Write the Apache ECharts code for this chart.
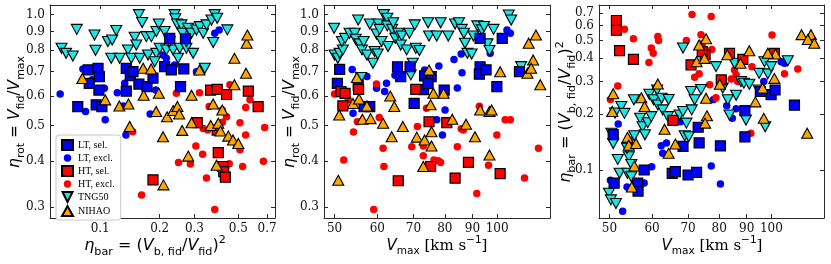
<!DOCTYPE html>
<html><head><meta charset="utf-8">
<script src="https://cdn.jsdelivr.net/npm/echarts@6/dist/echarts.min.js"></script>
<style>html,body{margin:0;padding:0;background:#fff}#c{width:831px;height:264px}</style>
</head><body><div id="c"></div>
<script>
// ---------- tick values ----------
const ticksEtaRot = [0.3, 0.4, 0.5, 0.6, 0.7, 0.8, 0.9, 1.0];
const ticksEtaBarX = [0.1, 0.2, 0.3, 0.5, 0.7];
const ticksVmax = [50, 60, 70, 80, 90, 100];
const ticksEtaBarY = [0.1, 0.2, 0.3, 0.4, 0.5, 0.6, 0.7];

// ---------- panel 1: eta_bar (x) vs eta_rot (y) ----------
const p1_LTsel = [[0.077,0.563],[0.087,0.708],[0.088,0.651],[0.0975,0.715],[0.099,0.679],[0.0985,0.624],[0.0954,0.569],[0.102,0.563],[0.1355,0.715],[0.142,0.683],[0.1355,0.62],[0.157,0.648],[0.1725,0.638],[0.185,0.672],[0.212,0.7225],[0.229,0.708],[0.225,0.862],[0.27,0.86],[0.265,0.712],[0.255,0.638],[0.1465,0.70]];
const p1_LTexc = [[0.0627,0.609],[0.0817,0.712],[0.0843,0.546],[0.0911,0.666],[0.105,0.631],[0.106,0.518],[0.122,0.614],[0.133,0.651],[0.131,0.565],[0.135,0.471],[0.179,0.537],[0.191,0.624],[0.208,0.777],[0.216,0.761],[0.238,0.73],[0.295,0.794],[0.307,0.70],[0.38,0.89],[0.40,0.909]];
const p1_HTsel = [[0.185,0.356],[0.31,0.509],[0.362,0.624],[0.391,0.627],[0.436,0.607],[0.562,0.62],[0.63,0.563],[0.391,0.486],[0.396,0.422],[0.417,0.387],[0.422,0.375],[0.43,0.362]];
const p1_HTexc = [[0.146,0.481],[0.162,0.324],[0.243,0.6115],[0.249,0.397],[0.305,0.44],[0.286,0.393],[0.318,0.614],[0.33,0.418],[0.332,0.491],[0.35,0.486],[0.356,0.563],[0.345,0.36],[0.38,0.296],[0.415,0.551],[0.415,0.51],[0.436,0.5285],[0.4535,0.645],[0.45,0.394],[0.51,0.509],[0.49,0.445],[0.51,0.43],[0.526,0.387],[0.545,0.471],[0.545,0.56],[0.573,0.587],[0.68,0.494],[0.67,0.40]];
const p1_TNG = [[0.0637,0.81],[0.0672,0.785],[0.0727,0.772],[0.0761,0.912],[0.0936,0.88],[0.0947,0.80],[0.1094,0.845],[0.115,0.853],[0.1206,0.905],[0.1137,0.761],[0.1254,0.761],[0.1382,0.802],[0.1494,0.868],[0.1523,0.827],[0.1437,0.761],[0.1584,0.761],[0.157,1.0],[0.163,0.952],[0.1712,0.8715],[0.1815,0.8715],[0.1746,0.777],[0.1924,0.90],[0.1924,0.785],[0.20,0.81],[0.198,0.943],[0.2163,0.802],[0.212,0.90],[0.2338,0.802],[0.238,1.0],[0.24,0.975],[0.245,0.943],[0.2577,0.938],[0.261,0.89],[0.2527,0.81],[0.2732,0.81],[0.2478,0.761],[0.2248,0.845],[0.2786,0.918],[0.2897,0.89],[0.3071,0.9086],[0.3193,0.9277],[0.332,0.89],[0.3452,0.938],[0.2954,0.785],[0.3385,0.715],[0.366,0.967],[0.38,1.0],[0.391,0.977],[0.3732,0.84],[0.44,0.909],[0.1887,0.745],[0.2732,0.845]];
const p1_NIHAO = [[0.0812,0.671],[0.106,0.587],[0.125,0.565],[0.139,0.572],[0.141,0.497],[0.165,0.715],[0.166,0.604],[0.181,0.712],[0.192,0.546],[0.198,0.6115],[0.208,0.466],[0.218,0.528],[0.234,0.549],[0.246,0.563],[0.251,0.537],[0.26,0.485],[0.29,0.604],[0.29,0.509],[0.279,0.413],[0.318,0.707],[0.209,0.345],[0.3625,0.50],[0.373,0.572],[0.396,0.507],[0.406,0.483],[0.415,0.551],[0.388,0.39],[0.445,0.468],[0.47,0.457],[0.50,0.447],[0.478,0.761],[0.478,0.645],[0.547,0.693],[0.551,0.836],[0.556,0.88]];

// ---------- panel 2: Vmax (x) vs eta_rot (y) ----------
const p2_LTsel = [[50.6,0.651],[51.1,0.71],[55.3,0.644],[56.7,0.563],[58.1,0.563],[65.4,0.722],[66.3,0.679],[69,0.722],[70.2,0.574],[73.4,0.682],[73.1,0.626],[75.5,0.679],[79.8,0.624],[93,0.862],[93,0.722],[92.7,0.689],[95.4,0.708],[99.9,0.638],[102.2,0.862],[110,0.70],[74.5,0.65]];
const p2_LTexc = [[53.9,0.71],[54.1,0.54],[57.4,0.679],[59.8,0.631],[62.4,0.651],[61.9,0.618],[64.7,0.685],[73.4,0.707],[77.3,0.518],[79.2,0.471],[78,0.725],[80.1,0.551],[83.2,0.755],[85.8,0.782],[86.1,0.695],[84.4,0.632],[97.1,0.785],[104.3,0.909],[105.8,0.89]];
const p2_HTsel = [[51.4,0.618],[52.3,0.6115],[51.8,0.565],[55.4,0.627],[70.7,0.627],[74.8,0.512],[75.3,0.387],[80.7,0.509],[83.6,0.36],[88.5,0.397],[101.3,0.37],[65.6,0.354]];
const p2_HTexc = [[50,0.609],[52,0.403],[53,0.587],[55.1,0.512],[54.2,0.48],[59.8,0.648],[60.5,0.526],[61.7,0.387],[61.5,0.434],[59.1,0.296],[69.5,0.438],[71.2,0.497],[73,0.44],[73,0.414],[74,0.557],[76.4,0.403],[77.8,0.401],[78.6,0.397],[84.4,0.438],[85.8,0.49],[86.6,0.486],[91.7,0.327],[92.7,0.564],[96.4,0.39],[99.9,0.471],[103.5,0.518],[105.8,0.518],[112.4,0.36],[119.3,0.434],[72.5,0.62]];
const p2_TNG = [[49.9,0.918],[50,0.777],[50.7,0.761],[51.1,0.785],[51.8,0.802],[51.6,0.845],[52.3,0.862],[53.3,0.89],[54.5,0.89],[54.7,0.857],[55.3,0.967],[55.6,0.833],[56.2,0.802],[56,0.675],[56.6,0.845],[57.4,0.777],[58.1,0.943],[58.9,0.738],[59.3,0.794],[60.1,0.782],[59.8,0.886],[60.3,0.943],[60.6,0.912],[61.1,0.845],[61.7,1.0],[62.6,0.977],[62.6,0.932],[63.9,0.912],[64.2,0.95],[64.8,0.862],[62.8,0.819],[65.6,0.89],[66.6,0.875],[66.3,0.827],[68,0.802],[68.8,0.89],[69.2,0.686],[69.8,0.738],[70.4,0.938],[70.7,0.81],[71.8,0.799],[74.5,0.95],[74.8,0.875],[77.3,0.875],[78.6,0.95],[81.2,0.875],[83.6,0.943],[85,0.95],[86,0.912],[86.8,0.89],[87.2,0.836],[88.1,0.785],[89.7,0.782],[90.4,0.875],[91.9,0.932],[93.7,0.909],[94.6,0.928],[96,0.833],[96.8,0.799],[98.5,0.912],[105.1,0.998],[106.2,0.967],[110.8,0.7225]];
const p2_NIHAO = [[50.8,0.355],[51,0.534],[54.1,0.574],[55,0.675],[55.5,0.59],[56.3,0.52],[57.4,0.565],[58.3,0.522],[61.5,0.507],[63.4,0.601],[64.5,0.563],[63.8,0.466],[66.9,0.497],[71,0.465],[73,0.387],[73.4,0.457],[74.8,0.707],[75.3,0.569],[75.6,0.481],[75.6,0.44],[76.2,0.612],[79.6,0.6115],[82.6,0.52],[87.6,0.504],[91,0.466],[93,0.551],[96.8,0.546],[97.7,0.551],[96.8,0.416],[101.3,0.70],[113.8,0.693],[114.4,0.836],[116.6,0.753],[115.6,0.715],[118,0.88],[120.2,0.645]];

// ---------- panel 3: Vmax (x) vs eta_bar (y) ----------
const p3_LTsel = [[50.8,0.155],[51,0.085],[56.4,0.085],[56.5,0.077],[58,0.10],[65.4,0.096],[66.3,0.098],[70,0.094],[72.6,0.097],[68.5,0.134],[73.4,0.14],[73.1,0.17],[80.4,0.135],[89.3,0.151],[89.3,0.209],[95.4,0.265],[99.9,0.255],[101.6,0.27],[110.4,0.224]];
const p3_LTexc = [[50.2,0.088],[52.9,0.06],[51.9,0.177],[53.9,0.081],[58,0.085],[59.9,0.104],[62.4,0.135],[62.8,0.123],[63.8,0.14],[67.8,0.182],[77.3,0.105],[80.4,0.084],[78.1,0.24],[82.6,0.222],[84.6,0.19],[86,0.214],[96.8,0.30],[104.3,0.384],[105.8,0.376]];
const p3_HTsel = [[51.5,0.64],[51.5,0.567],[52.2,0.44],[55.4,0.395],[65.6,0.185],[70.9,0.369],[75.3,0.418],[74.4,0.435],[80.7,0.306],[83.6,0.426],[88.5,0.395],[101.3,0.426]];
const p3_HTexc = [[50.2,0.24],[51.8,0.284],[53.3,0.574],[55.4,0.51],[54.5,0.145],[59.2,0.38],[59.8,0.455],[60.3,0.426],[61.5,0.524],[61.7,0.50],[69.5,0.50],[71.2,0.69],[72,0.316],[73.4,0.33],[74,0.537],[74.4,0.48],[76.8,0.288],[77.3,0.672],[77.5,0.446],[78.9,0.245],[84.2,0.31],[85.4,0.346],[86,0.325],[86.6,0.30],[92,0.361],[91.6,0.158],[100.3,0.535],[102.2,0.43],[105.8,0.33],[112,0.35]];
const p3_TNG = [[49.9,0.075],[50.3,0.069],[51.4,0.066],[50.8,0.139],[50.4,0.158],[51.2,0.203],[52.6,0.22],[53.3,0.202],[51.8,0.114],[52.2,0.096],[54,0.096],[54.3,0.118],[54.9,0.107],[54.9,0.092],[53.9,0.131],[55.5,0.239],[55.6,0.153],[57,0.19],[57.6,0.171],[58.2,0.155],[58.9,0.18],[59.3,0.256],[59.8,0.194],[60.4,0.239],[61.3,0.27],[61.5,0.224],[62.5,0.244],[62.8,0.211],[64.4,0.24],[64.2,0.194],[67.5,0.198],[68.5,0.207],[69,0.153],[69.5,0.179],[68.5,0.455],[70.2,0.151],[70.9,0.265],[71.1,0.211],[72,0.239],[74,0.272],[78.9,0.361],[81.2,0.277],[83,0.239],[83.6,0.198],[85.4,0.376],[86,0.253],[87.8,0.30],[88.9,0.294],[89.7,0.186],[91,0.29],[94.9,0.332],[97.1,0.384],[97.4,0.171],[98.5,0.33],[99.9,0.361],[107.3,0.388],[94.7,0.27]];
const p3_NIHAO = [[50.8,0.258],[50.6,0.207],[54,0.15],[54.3,0.136],[55,0.081],[55.6,0.105],[56,0.139],[57.3,0.245],[58.1,0.22],[61.5,0.291],[63.3,0.166],[64.4,0.123],[66.3,0.138],[72.6,0.384],[73.4,0.472],[75.6,0.51],[75.1,0.40],[75.6,0.244],[75.9,0.196],[75.3,0.179],[80.2,0.29],[82.8,0.418],[87.6,0.376],[91,0.44],[93.4,0.233],[96.3,0.277],[96.8,0.19],[101.8,0.422],[101.3,0.312],[116.6,0.158],[118.5,0.537],[113.8,0.537],[116.9,0.505],[120.2,0.483],[98.5,0.426]];

const seriesNames = ['LT, sel.', 'LT, excl.', 'HT, sel.', 'HT, excl.', 'TNG50', 'NIHAO'];

// ---------- styles ----------
const FRAME = '#2a2a2a';
const DOWN_TRI = 'path://M0,0 L2,0 L1,2 Z';
const SMALL_DOT = 'path://M0,0 M10,10 M5,1.3 A3.7,3.7 0 1,1 4.99,1.3 Z';
const styles = {
  'LT, sel.':  {symbol:'rect', size:10, color:'#0000ff', border:'#000', bw:1.2, z:4},
  'LT, excl.': {symbol:'circle', size:7.5, color:'#0000ff', border:'#0000ff', bw:0, z:2},
  'HT, sel.':  {symbol:'rect', size:10, color:'#ff0000', border:'#000', bw:1.2, z:4},
  'HT, excl.': {symbol:'circle', size:7.5, color:'#ff0000', border:'#ff0000', bw:0, z:2},
  'TNG50':     {symbol:DOWN_TRI, size:[11,10], color:'#1ee6e6', border:'#000', bw:1.1, z:3},
  'NIHAO':     {symbol:'triangle', size:[11,10], color:'#ffa500', border:'#000', bw:1.1, z:5}
};

const panels = [
  {data:[p1_LTsel,p1_LTexc,p1_HTsel,p1_HTexc,p1_TNG,p1_NIHAO]},
  {data:[p2_LTsel,p2_LTexc,p2_HTsel,p2_HTexc,p2_TNG,p2_NIHAO]},
  {data:[p3_LTsel,p3_LTexc,p3_HTsel,p3_HTexc,p3_TNG,p3_NIHAO]}
];

const fmt1 = v => (+v).toFixed(1);
const fmt0 = v => String(Math.round(+v));

function axis(gridIndex, position, min, max, ticks, fmt, showLabel) {
  return {
    type: 'log', logBase: 10, gridIndex, position, min, max,
    axisLine: {show: true, onZero: false, lineStyle: {color: FRAME, width: 1}},
    axisTick: {show: true, inside: true, length: 4, customValues: ticks, lineStyle: {color: FRAME, width: 1}},
    axisLabel: {show: showLabel, customValues: ticks, formatter: fmt, fontFamily: 'DejaVu Serif', fontSize: 12, color: '#111', margin: 5},
    minorTick: {show: false}, splitLine: {show: false}
  };
}

const X = [0.0557, 0.767];
const V = [47.8, 125.3];
const R = [0.2805, 1.062];
const B = [0.0551, 0.776];

const xAxes = [
  axis(0,'bottom',X[0],X[1],ticksEtaBarX,fmt1,true),
  axis(0,'top',X[0],X[1],ticksEtaBarX,fmt1,false),
  axis(1,'bottom',V[0],V[1],ticksVmax,fmt0,true),
  axis(1,'top',V[0],V[1],ticksVmax,fmt0,false),
  axis(2,'bottom',V[0],V[1],ticksVmax,fmt0,true),
  axis(2,'top',V[0],V[1],ticksVmax,fmt0,false)
];
const yAxes = [
  axis(0,'left',R[0],R[1],ticksEtaRot,fmt1,true),
  axis(0,'right',R[0],R[1],ticksEtaRot,fmt1,false),
  axis(1,'left',R[0],R[1],ticksEtaRot,fmt1,true),
  axis(1,'right',R[0],R[1],ticksEtaRot,fmt1,false),
  axis(2,'left',B[0],B[1],ticksEtaBarY,fmt1,true),
  axis(2,'right',B[0],B[1],ticksEtaBarY,fmt1,false)
];

const series = [];
panels.forEach((p, pi) => {
  p.data.forEach((d, si) => {
    const name = seriesNames[si];
    const st = styles[name];
    series.push({
      type: 'scatter', name, xAxisIndex: pi*2, yAxisIndex: pi*2, data: d,
      symbol: st.symbol, symbolSize: st.size, z: st.z,
      itemStyle: {color: st.color, borderColor: st.border, borderWidth: st.bw, opacity: 1},
      emphasis: {disabled: true}, silent: true
    });
  });
});

// ---------- axis titles (rich text) ----------
const SANS = 'DejaVu Sans';
function makeRich(fs) {
  const sub = Math.round(fs * 0.7 * 10) / 10;
  return {
    i: {fontFamily: SANS, fontStyle: 'italic', fontSize: fs, lineHeight: fs + 7, fill: '#000', verticalAlign: 'middle'},
    n: {fontFamily: SANS, fontSize: fs, lineHeight: fs + 7, fill: '#000', verticalAlign: 'middle'},
    r: {fontFamily: 'DejaVu Serif', fontSize: fs, lineHeight: fs + 7, fill: '#000', verticalAlign: 'middle'},
    s: {fontFamily: SANS, fontSize: sub, lineHeight: sub + 1.5, fill: '#000', verticalAlign: 'bottom'},
    u: {fontFamily: SANS, fontSize: sub, lineHeight: sub + 1.5, fill: '#000', verticalAlign: 'top'}
  };
}
const tRot = '{i|η}{s|rot}{n| = }{i|V}{s|fid}{n|/}{i|V}{s|max}';
const tBar = '{i|η}{s|bar}{n| = (}{i|V}{s|b, fid}{n|/}{i|V}{s|fid}{n|)}{u|2}';
const tVmax = '{i|V}{s|max}{r| [km s}{u|−1}{r|]}';

function title(text, x, y, rot, fs) {
  return {type: 'text', x, y, rotation: rot || 0, z: 100,
    style: {text, rich: makeRich(fs), align: 'center', verticalAlign: 'middle', fill: '#000'}};
}

const legendData = seriesNames.map(n =>
  (n === 'LT, excl.' || n === 'HT, excl.') ? {name: n, icon: SMALL_DOT} : {name: n});

const option = {
  animation: false,
  backgroundColor: '#fff',
  grid: [
    {left: 50, top: 5, width: 225, height: 213},
    {left: 324, top: 5, width: 226, height: 213},
    {left: 599, top: 5, width: 225, height: 213}
  ],
  xAxis: xAxes,
  yAxis: yAxes,
  legend: {
    data: legendData, orient: 'vertical', left: 56, top: 135, z: 20,
    itemWidth: 11, itemHeight: 10, itemGap: 2,
    textStyle: {fontFamily: 'Liberation Serif', fontSize: 10, color: '#000'},
    backgroundColor: '#fff', borderColor: '#c8c8c8', borderWidth: 1, borderRadius: 3,
    padding: [4, 6, 3, 5], selectedMode: false
  },
  graphic: [
    title(tBar, 155, 246, 0, 16),
    title(tRot, 15, 112, Math.PI/2, 15.5),
    title(tVmax, 437, 246, 0, 15),
    title(tRot, 290, 112, Math.PI/2, 15.5),
    title(tVmax, 712, 246, 0, 15),
    title(tBar, 566, 112, Math.PI/2, 16)
  ],
  series
};

const chart = echarts.init(document.getElementById('c'));
chart.setOption(option);
</script></body></html>
